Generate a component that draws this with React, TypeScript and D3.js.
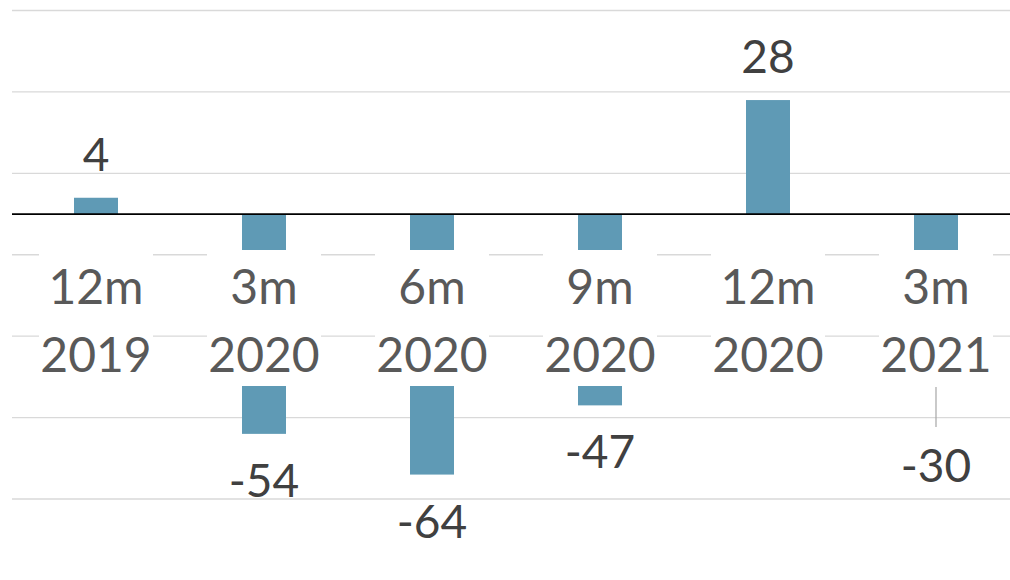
import * as d3 from "d3";

const periods = ["12m", "3m", "6m", "9m", "12m", "3m"];
const years = ["2019", "2020", "2020", "2020", "2020", "2021"];
const values = [4, -54, -64, -47, 28, -30];
const gridTicks = [-70, -50, -30, -10, 10, 30, 50];

const W = 1010;
const H = 580;
const BAR_COLOR = "#5f9ab5";
const FONT = "Lato, 'Open Sans', sans-serif";

export default function App() {
  const x = d3
    .scaleBand<number>()
    .domain(values.map((_, i) => i))
    .range([12, 1020])
    .paddingInner(0)
    .paddingOuter(0);
  const y = d3.scaleLinear().domain([-70, 50]).range([499, 10.5]);

  const bw = 44;
  // band where the category labels sit, on top of the bars
  const bandTop = 250;
  const bandBottom = 386;
  const boxW = 114;

  const cx = (i: number) => (x(i) ?? 0) + x.bandwidth() / 2;

  return (
    <div style={{ position: "absolute", left: 0, top: 0 }}>
      <svg width={W} height={H} style={{ display: "block", background: "#fff" }}>
        {/* gridlines */}
        {gridTicks.map((t) => (
          <line
            key={t}
            x1={12}
            x2={W}
            y1={y(t)}
            y2={y(t)}
            stroke="#d9d9d9"
            strokeWidth={1.3}
          />
        ))}

        {/* bars */}
        {values.map((v, i) => (
          <rect
            key={i}
            x={cx(i) - bw / 2}
            y={Math.min(y(v), y(0))}
            width={bw}
            height={Math.abs(y(v) - y(0))}
            fill={BAR_COLOR}
          />
        ))}

        {/* label boxes covering bars */}
        {values.map((_, i) => (
          <rect
            key={i}
            x={cx(i) - boxW / 2}
            y={bandTop}
            width={boxW}
            height={bandBottom - bandTop}
            fill="#fff"
          />
        ))}

        {/* zero line */}
        <line x1={12} x2={W} y1={y(0)} y2={y(0)} stroke="#000" strokeWidth={1.8} />

        {/* category labels */}
        {periods.map((p, i) => (
          <text
            key={i}
            x={cx(i)}
            textAnchor="middle"
            fontFamily={FONT}
            fontSize={48}
            fill="#595959"
          >
            <tspan x={cx(i)} y={304}>{p}</tspan>
            <tspan x={cx(i)} y={372}>{years[i]}</tspan>
          </text>
        ))}

        {/* data labels */}
        {values.map((v, i) => {
          const yv = y(v);
          let ly: number;
          let leader = null;
          if (v >= 0) {
            ly = yv - 27;
          } else if (yv < bandBottom) {
            ly = bandBottom + 96;
            leader = (
              <line
                x1={cx(i)}
                x2={cx(i)}
                y1={bandBottom + 1}
                y2={bandBottom + 41}
                stroke="#a6a6a6"
                strokeWidth={1.2}
              />
            );
          } else {
            ly = yv + 63;
          }
          return (
            <g key={i}>
              {leader}
              <text
                x={cx(i)}
                y={ly}
                textAnchor="middle"
                fontFamily={FONT}
                fontSize={46}
                fill="#404040"
              >
                {v}
              </text>
            </g>
          );
        })}
      </svg>
    </div>
  );
}
